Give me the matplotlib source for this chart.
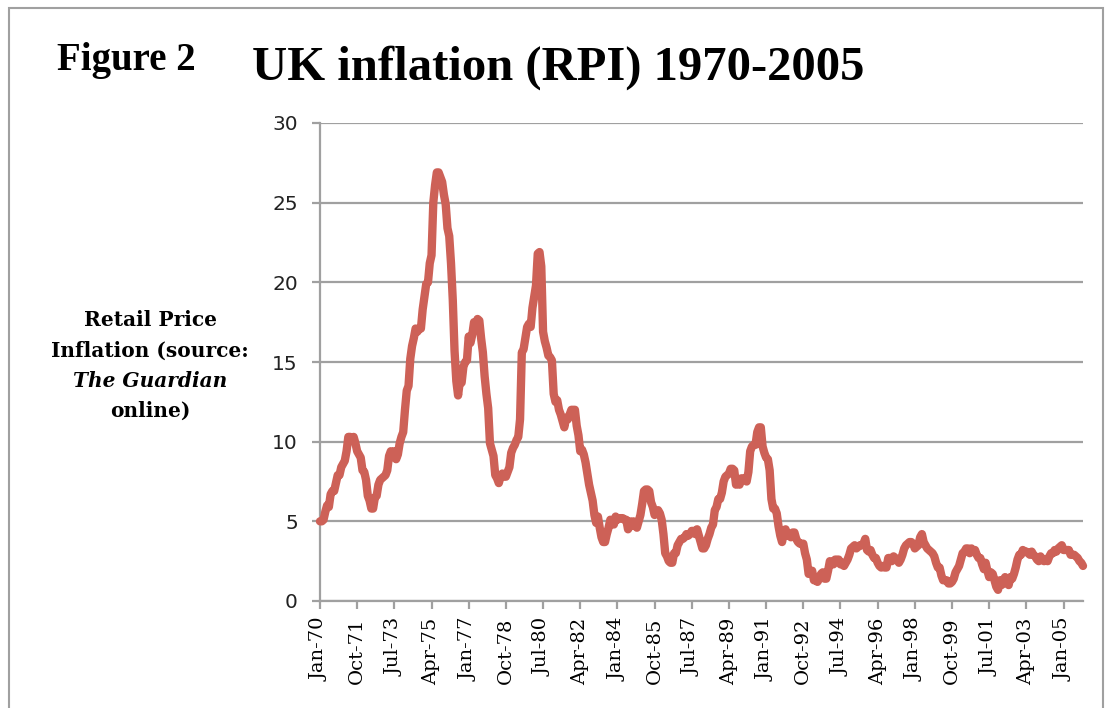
import matplotlib.pyplot as plt
import matplotlib.patches as patches
import pandas as pd
import numpy as np

# RPI annual % change, monthly, Jan 1970 - Dec 2005
rpi_1970s = [
    5.0, 5.0, 5.1, 5.6, 6.0, 5.9, 6.7, 6.9, 6.9, 7.4, 7.9, 7.9,
    8.4, 8.6, 8.8, 9.4, 10.3, 10.3, 10.1, 10.3, 9.9, 9.4, 9.2, 9.0,
    8.2, 8.1, 7.6, 6.6, 6.3, 5.8, 5.8, 6.5, 6.6, 7.3, 7.6, 7.7,
    7.8, 7.9, 8.2, 9.1, 9.4, 9.3, 9.4, 8.9, 9.2, 9.9, 10.3, 10.6,
    12.0, 13.2, 13.5, 15.2, 16.0, 16.5, 17.1, 16.9, 17.1, 17.1, 18.3, 19.1,
    19.9, 20.0, 21.2, 21.7, 25.0, 26.1, 26.9, 26.9, 26.6, 26.3, 25.5, 24.9,
    23.4, 22.9, 21.2, 18.9, 15.7, 13.8, 12.9, 13.8, 13.7, 14.7, 15.0, 15.1,
    16.6, 16.2, 16.7, 17.5, 17.2, 17.7, 17.6, 16.5, 15.6, 14.1, 13.0, 12.1,
    9.9, 9.5, 9.1, 7.9, 7.7, 7.4, 7.8, 8.0, 7.8, 7.8, 8.1, 8.4,
    9.3, 9.6, 9.8, 10.1, 10.3, 11.4, 15.6, 15.8, 16.5, 17.2, 17.4, 17.2,
]
rpi_1980s = [
    18.4, 19.1, 19.8, 21.8, 21.9, 21.0, 16.9, 16.3, 15.9, 15.4, 15.3, 15.1,
    13.0, 12.5, 12.6, 12.0, 11.7, 11.3, 10.9, 11.5, 11.4, 11.7, 12.0, 12.0,
    12.0, 11.0, 10.4, 9.4, 9.5, 9.2, 8.7, 8.0, 7.3, 6.8, 6.3, 5.4,
    4.9, 5.3, 4.6, 4.0, 3.7, 3.7, 4.2, 4.6, 5.1, 5.0, 4.8, 5.3,
    5.1, 5.2, 5.2, 5.2, 5.1, 5.1, 4.5, 5.0, 4.7, 5.0, 4.9, 4.6,
    5.0, 5.4, 6.1, 6.9, 7.0, 7.0, 6.9, 6.2, 5.9, 5.4, 5.5, 5.7,
    5.5, 5.1, 4.2, 3.0, 2.8, 2.5, 2.4, 2.4, 3.0, 3.0, 3.5, 3.7,
    3.9, 3.9, 4.0, 4.2, 4.1, 4.2, 4.4, 4.4, 4.2, 4.5, 4.1, 3.7,
    3.3, 3.3, 3.5, 3.9, 4.2, 4.6, 4.8, 5.7, 5.9, 6.4, 6.4, 6.8,
    7.5, 7.8, 7.9, 8.0, 8.3, 8.3, 8.2, 7.3, 7.6, 7.3, 7.7, 7.7,
]
rpi_1990s = [
    7.7, 7.5, 8.1, 9.4, 9.7, 9.8, 9.8, 10.6, 10.9, 10.9, 9.7, 9.3,
    9.0, 8.9, 8.2, 6.4, 5.8, 5.8, 5.5, 4.7, 4.1, 3.7, 4.3, 4.5,
    4.1, 4.1, 4.0, 4.3, 4.3, 3.9, 3.7, 3.6, 3.6, 3.6, 3.0, 2.6,
    1.7, 1.8, 1.9, 1.3, 1.3, 1.2, 1.4, 1.7, 1.8, 1.4, 1.4, 1.9,
    2.5, 2.4, 2.3, 2.6, 2.6, 2.6, 2.3, 2.4, 2.2, 2.4, 2.6, 2.9,
    3.3, 3.4, 3.5, 3.3, 3.4, 3.5, 3.5, 3.6, 3.9, 3.2, 3.1, 3.2,
    2.9, 2.7, 2.7, 2.4, 2.2, 2.1, 2.2, 2.1, 2.1, 2.7, 2.7, 2.5,
    2.8, 2.7, 2.6, 2.4, 2.6, 2.9, 3.3, 3.5, 3.6, 3.7, 3.7, 3.6,
    3.3, 3.4, 3.5, 4.0, 4.2, 3.7, 3.5, 3.3, 3.2, 3.1, 3.0, 2.8,
    2.4, 2.1, 2.1, 1.6, 1.3, 1.3, 1.3, 1.1, 1.1, 1.2, 1.4, 1.8,
]
rpi_2000s = [
    2.0, 2.2, 2.6, 3.0, 3.1, 3.3, 3.3, 3.0, 3.3, 3.1, 3.2, 2.9,
    2.7, 2.7, 2.3, 2.0, 2.4, 1.9, 1.5, 1.8, 1.7, 1.3, 0.9, 0.7,
    1.3, 1.0, 1.3, 1.5, 1.1, 1.0, 1.5, 1.4, 1.7, 2.1, 2.6, 2.9,
    2.9, 3.2, 3.1, 3.1, 3.0, 2.9, 3.1, 2.9, 2.8, 2.6, 2.5, 2.8,
    2.6, 2.5, 2.6, 2.5, 2.8, 3.0, 3.0, 3.2, 3.1, 3.3, 3.4, 3.5,
    3.2, 3.2, 3.2, 3.2, 2.9, 2.9, 2.9, 2.8, 2.7, 2.5, 2.4, 2.2,
]

rpi = rpi_1970s + rpi_1980s + rpi_1990s + rpi_2000s
months = pd.date_range('1970-01-01', periods=len(rpi), freq='MS')
x = np.arange(len(rpi))
tick_step = 21  # Excel label interval

fig = plt.figure(figsize=(11.05, 7.08), dpi=100)
ax = fig.add_axes([320 / 1105, 1 - 601 / 708, (1083 - 320) / 1105, (601 - 123) / 708])

grey = '#a0a0a0'
ax.plot(x, rpi, color='#cd6157', linewidth=6, solid_joinstyle='round',
        solid_capstyle='round', zorder=3, clip_on=False)

ax.set_xlim(0, len(rpi) - 1)
ax.set_ylim(0, 30)
ax.set_yticks(range(0, 31, 5))
ax.yaxis.grid(True, color=grey, linewidth=1.6)
ax.set_axisbelow(True)

ticks = x[::tick_step]
ax.set_xticks(ticks)
ax.set_xticklabels([months[i].strftime('%b-%y') for i in ticks], rotation=90,
                   fontfamily='DejaVu Serif', fontsize=14)
for lab in ax.get_yticklabels():
    lab.set_fontfamily('DejaVu Sans')
    lab.set_fontsize(14.5)
    lab.set_color('#222222')

for side in ['top', 'right']:
    ax.spines[side].set_visible(False)
for side in ['left', 'bottom']:
    ax.spines[side].set_color(grey)
    ax.spines[side].set_linewidth(1.6)
ax.tick_params(axis='both', color=grey, width=1.6, length=6, direction='out')
ax.tick_params(axis='x', pad=6)
ax.tick_params(axis='y', pad=10)

# titles
fig.text(57 / 1105, 1 - 70 / 708, 'Figure 2', fontfamily='Liberation Serif',
         fontweight='bold', fontsize=28, va='baseline')
fig.text(252 / 1105, 1 - 80 / 708, 'UK inflation (RPI) 1970-2005', fontfamily='Liberation Serif',
         fontweight='bold', fontsize=35, va='baseline')

# y axis label, one line at a time (third line italic)
ylab_lines = ['Retail Price', 'Inflation (source:', 'The Guardian', 'online)']
ylab_y = [320, 351, 381, 411]
for txt, yy in zip(ylab_lines, ylab_y):
    fig.text(150 / 1105, 1 - yy / 708, txt, fontfamily='DejaVu Serif', fontweight='bold',
             fontstyle='italic' if txt == 'The Guardian' else 'normal',
             fontsize=14.5, ha='center', va='center')

# outer frame
fig.patches.append(patches.Rectangle((9 / 1105, -0.01), (1103 - 9) / 1105, 1 - 8 / 708 + 0.01,
                                     transform=fig.transFigure, fill=False,
                                     edgecolor=grey, linewidth=1.5))

fig.savefig('out.png', dpi=100)
